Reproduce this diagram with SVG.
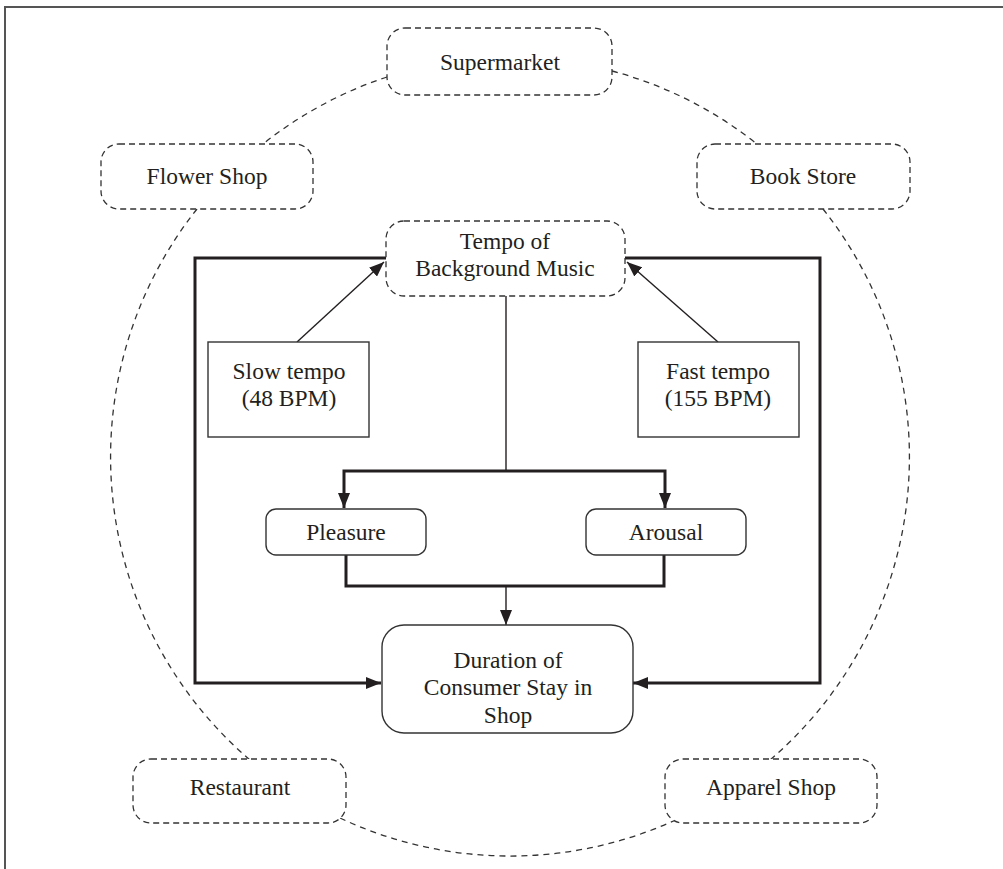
<svg xmlns="http://www.w3.org/2000/svg" width="1003" height="869" viewBox="0 0 1003 869">
<style>
.t{font-family:"Liberation Serif","Times New Roman",serif;font-size:23.5px;fill:#231f20;text-anchor:middle}
.dash{fill:#fff;stroke:#333;stroke-width:1.3;stroke-dasharray:6 4}
.box{fill:#fff;stroke:#333;stroke-width:1.4}
.arc{fill:none;stroke:#333;stroke-width:1.3;stroke-dasharray:6 5}
.thick{fill:none;stroke:#231f20;stroke-width:3}
.thin{fill:none;stroke:#231f20;stroke-width:1.4}
</style>
<defs>
<marker id="ah" markerUnits="userSpaceOnUse" markerWidth="15" markerHeight="12" refX="15" refY="6" orient="auto">
<path d="M0,0 L15,6 L0,12 Z" fill="#231f20"/>
</marker>
</defs>
<rect width="1003" height="869" fill="#fff"/>
<path d="M5,869 V7 H1003" fill="none" stroke="#555" stroke-width="2"/>
<g id="connectors">
<path class="arc" d="M387,77 A399,399 0 0 0 263,144"/>
<path class="arc" d="M612,71 A399,399 0 0 1 757,144"/>
<path class="arc" d="M197,209 A399,399 0 0 0 250,760"/>
<path class="arc" d="M823,209 A399,399 0 0 1 770,760"/>
<path class="arc" d="M340,818 A399,399 0 0 0 680,818"/>
<path class="thick" d="M386,258 H195 V683 H381" marker-end="url(#ah)"/>
<path class="thick" d="M625,258 H820 V683 H633" marker-end="url(#ah)"/>
<path class="thin" d="M506,296 V471"/>
<path class="thick" d="M506,471 H344 V508" marker-end="url(#ah)"/>
<path class="thick" d="M506,471 H665 V508" marker-end="url(#ah)"/>
<path class="thick" d="M346,555 V586 H664 V555"/>
<path class="thin" d="M506,586 V625" marker-end="url(#ah)"/>
<path class="thin" d="M297,342 L384,262" marker-end="url(#ah)"/>
<path class="thin" d="M718,342 L627,262" marker-end="url(#ah)"/>
</g>
<g id="supermarket"><rect class="dash" x="387" y="28" width="225" height="67" rx="18"/><text class="t" x="500" y="70">Supermarket</text></g>
<g id="flower-shop"><rect class="dash" x="101" y="144" width="212" height="65" rx="18"/><text class="t" x="207" y="184">Flower Shop</text></g>
<g id="book-store"><rect class="dash" x="697" y="144" width="213" height="65" rx="18"/><text class="t" x="803" y="184">Book Store</text></g>
<g id="tempo"><rect class="dash" x="386" y="221" width="239" height="75" rx="18"/><text class="t" x="505" y="249">Tempo of</text><text class="t" x="505" y="276">Background Music</text></g>
<g id="slow-tempo"><rect class="box" x="208" y="342" width="161" height="95"/><text class="t" x="289" y="379">Slow tempo</text><text class="t" x="289" y="406">(48 BPM)</text></g>
<g id="fast-tempo"><rect class="box" x="638" y="342" width="161" height="95"/><text class="t" x="718" y="379">Fast tempo</text><text class="t" x="718" y="406">(155 BPM)</text></g>
<g id="pleasure"><rect class="box" x="266" y="509" width="160" height="46" rx="10"/><text class="t" x="346" y="540">Pleasure</text></g>
<g id="arousal"><rect class="box" x="586" y="509" width="160" height="46" rx="10"/><text class="t" x="666" y="540">Arousal</text></g>
<g id="duration"><rect class="box" x="382" y="625" width="251" height="108" rx="22"/><text class="t" x="508" y="668">Duration of</text><text class="t" x="508" y="695">Consumer Stay in</text><text class="t" x="508" y="723">Shop</text></g>
<g id="restaurant"><rect class="dash" x="133" y="759" width="213" height="64" rx="18"/><text class="t" x="240" y="795">Restaurant</text></g>
<g id="apparel-shop"><rect class="dash" x="665" y="759" width="212" height="64" rx="18"/><text class="t" x="771" y="795">Apparel Shop</text></g>
</svg>
